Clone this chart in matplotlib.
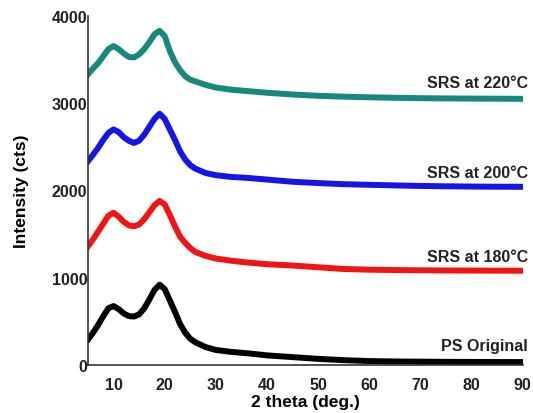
import matplotlib
matplotlib.use("Agg")
import matplotlib.pyplot as plt

plt.rcParams["font.family"] = ["Liberation Sans", "DejaVu Sans"]
plt.rcParams["font.weight"] = "bold"

# 2 theta positions (deg.)
two_theta = [5, 6, 7, 8, 9, 10, 11, 12, 13, 14, 15, 16, 17, 18, 19, 20, 21, 22,
             23, 24, 25, 26, 28, 30, 33, 36, 40, 45, 50, 55, 60, 65, 70, 75, 80, 85, 90]

srs_220 = [3330, 3400, 3460, 3540, 3620, 3655, 3620, 3570, 3530, 3525, 3560, 3620,
           3700, 3790, 3830, 3770, 3600, 3470, 3380, 3310, 3270, 3250, 3210, 3180,
           3155, 3140, 3120, 3100, 3085, 3075, 3068, 3062, 3058, 3055, 3053, 3052, 3050]

srs_200 = [2335, 2410, 2490, 2580, 2660, 2700, 2670, 2610, 2570, 2545, 2570, 2640,
           2730, 2820, 2880, 2820, 2700, 2580, 2450, 2355, 2290, 2250, 2200, 2175,
           2155, 2145, 2125, 2100, 2085, 2072, 2065, 2058, 2052, 2048, 2045, 2043, 2042]

srs_180 = [1360, 1440, 1530, 1620, 1710, 1745, 1700, 1640, 1600, 1590, 1610, 1670,
           1750, 1830, 1880, 1840, 1720, 1590, 1470, 1400, 1340, 1295, 1250, 1220,
           1195, 1175, 1155, 1140, 1120, 1100, 1092, 1088, 1085, 1083, 1082, 1081, 1080]

ps_original = [290, 370, 460, 560, 650, 675, 640, 590, 560, 555, 580, 650,
               750, 860, 920, 870, 740, 610, 470, 370, 300, 260, 205, 172,
               150, 135, 110, 90, 70, 55, 45, 40, 38, 36, 35, 34, 33]

series = [
    (ps_original, "black", "PS Original", 218),
    (srs_180, "#f01515", "SRS at 180°C", 1249),
    (srs_200, "#1515e6", "SRS at 200°C", 2211),
    (srs_220, "#16887e", "SRS at 220°C", 3243),
]

fig = plt.figure(figsize=(5.33, 4.14), dpi=100)
ax = fig.add_axes([0.165, 0.116, 0.816, 0.843])

for values, color, label, label_y in series:
    ax.plot(two_theta, values, color=color, linewidth=4.3,
            solid_joinstyle="round")
    ax.text(91, label_y, label, ha="right", va="center", fontsize=11.5,
            fontweight="bold", color="#222222", clip_on=False)

ax.set_xlim(5, 90)
ax.set_ylim(0, 4000)
ax.set_xticks([10, 20, 30, 40, 50, 60, 70, 80, 90])
ax.set_yticks([0, 1000, 2000, 3000, 4000])
ax.tick_params(length=0, labelsize=11.5, colors="#222222")
ax.tick_params(axis="x", pad=9)
ax.tick_params(axis="y", pad=0.5)
for lab in ax.get_xticklabels() + ax.get_yticklabels():
    lab.set_fontweight("bold")

ax.spines["top"].set_visible(False)
ax.spines["right"].set_visible(False)
for s in ("left", "bottom"):
    ax.spines[s].set_color("#333333")
    ax.spines[s].set_linewidth(1.2)

ax.set_xlabel("2 theta (deg.)", fontsize=12.5, fontweight="bold", labelpad=1)
ax.set_ylabel("Intensity (cts)", fontsize=12.5, fontweight="bold", labelpad=16)

fig.savefig("out.png", dpi=100)
